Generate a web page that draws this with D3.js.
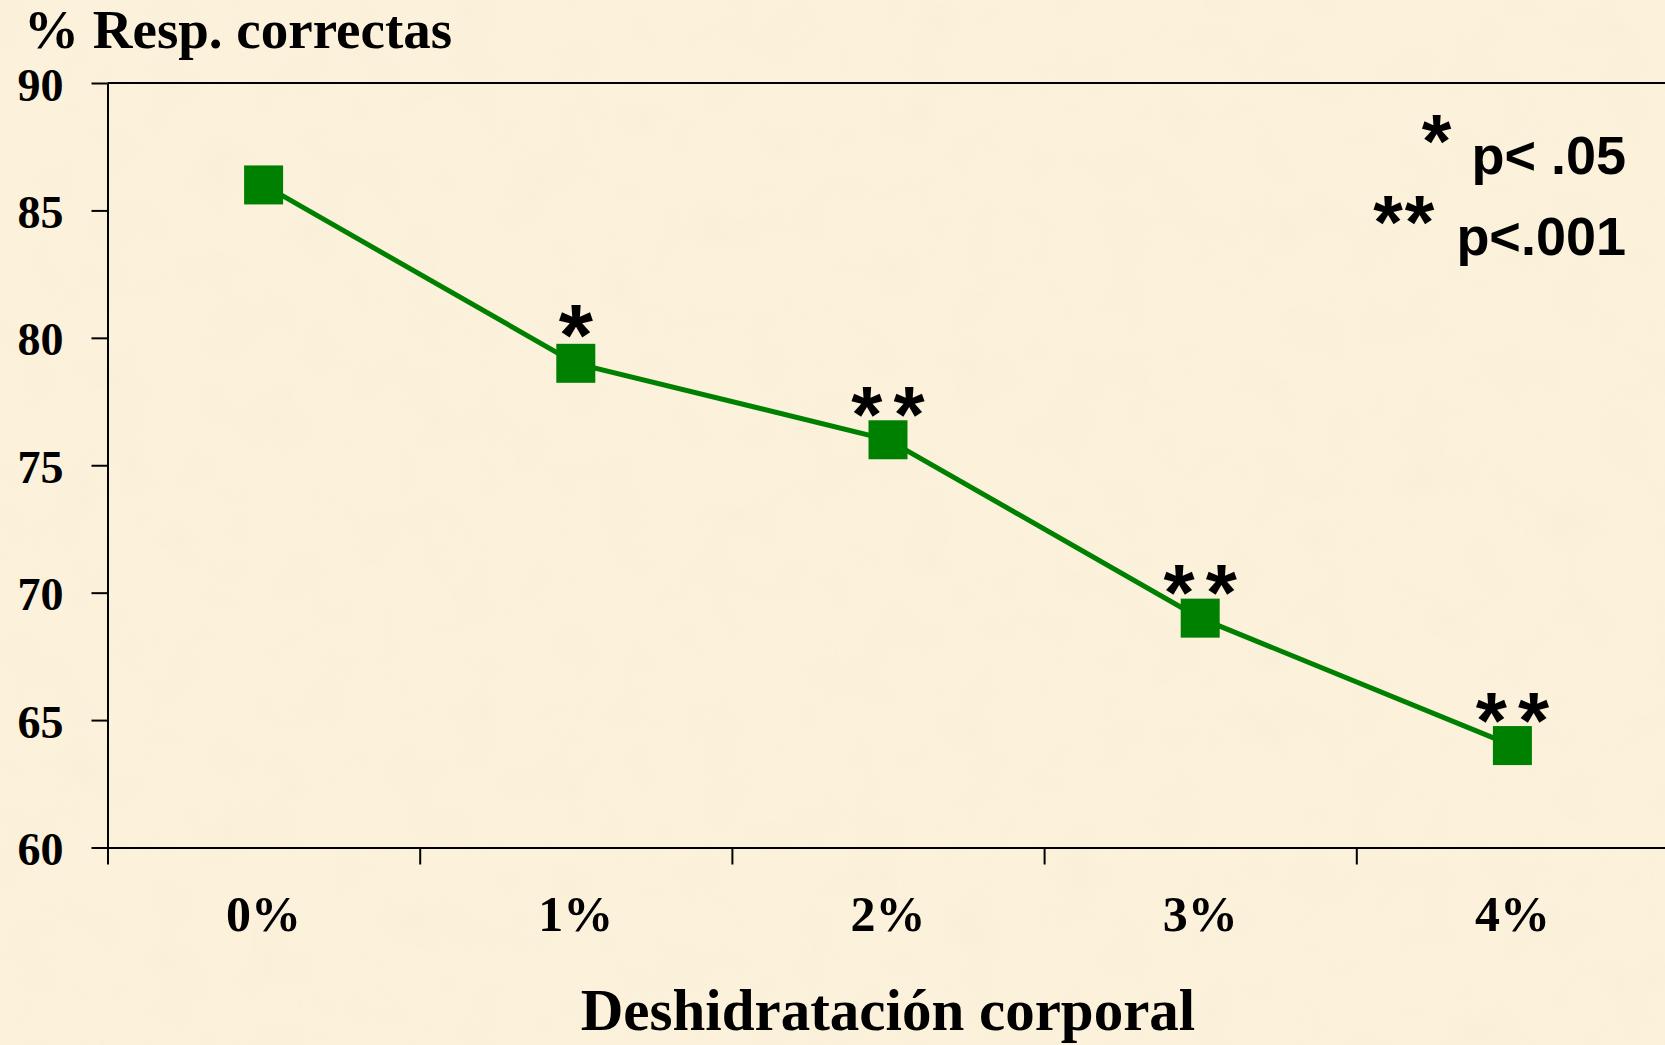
<!DOCTYPE html>
<html>
<head>
<meta charset="utf-8">
<script src="https://cdn.jsdelivr.net/npm/d3@7/dist/d3.min.js"></script>
<style>
  body { margin: 0; background: #fbf0d8; }
  svg { display: block; }
</style>
</head>
<body>
<div class="chart"></div>
<script>
const categories = ['0%', '1%', '2%', '3%', '4%'];
const values = [86, 79, 76, 69, 64];
const significance = ['', '*', '**', '**', '**'];
const yTicks = [60, 65, 70, 75, 80, 85, 90];
const legendStars = ['*', '**'];
const legendLabels = ['p< .05', 'p<.001'];

const width = 1665, height = 1045;
// plot box, right edge runs slightly off the picture like the original
const box = { l: 107.5, r: 1668.5, t: 83, b: 847.5 };
const serif = "'Liberation Serif', 'Times New Roman', serif";
const sans = "'Liberation Sans', Arial, sans-serif";

const svg = d3.select('.chart')
  .append('svg')
    .attr('width', width)
    .attr('height', height);

// parchment background
const defs = svg.append('defs');
const tex = defs.append('filter').attr('id', 'paper')
  .attr('x', 0).attr('y', 0).attr('width', '100%').attr('height', '100%');
tex.append('feTurbulence')
  .attr('type', 'fractalNoise')
  .attr('baseFrequency', 0.02)
  .attr('numOctaves', 3)
  .attr('seed', 4);
tex.append('feColorMatrix')
  .attr('type', 'matrix')
  .attr('values', '0 0 0 0 0.93  0 0 0 0 0.85  0 0 0 0 0.68  1.8 0 0 0 -0.75');

svg.append('rect')
  .attr('width', width).attr('height', height)
  .attr('fill', '#fcf2db');
svg.append('rect')
  .attr('width', width).attr('height', height)
  .attr('filter', 'url(#paper)')
  .attr('opacity', 0.5);

const x = d3.scaleBand()
  .domain(categories)
  .range([box.l, box.r])
  .padding(0);

const y = d3.scaleLinear()
  .domain([60, 90])
  .range([box.b, box.t]);

// top border of the plot area
svg.append('line')
  .attr('x1', box.l).attr('x2', box.r)
  .attr('y1', y(90)).attr('y2', y(90))
  .attr('stroke', '#000').attr('stroke-width', 2);

// y axis
const yAxis = svg.append('g')
  .attr('transform', 'translate(' + box.l + ',0)')
  .call(d3.axisLeft(y).tickValues(yTicks).tickSize(16).tickSizeOuter(0).tickPadding(28));
yAxis.selectAll('path, line').attr('stroke', '#000').attr('stroke-width', 2);
yAxis.selectAll('text')
  .attr('dy', '0.37em')
  .attr('fill', '#000')
  .style('font-family', serif)
  .style('font-weight', 'bold')
  .style('font-size', '46px');

// x axis: ticks sit on the category boundaries
const xEdge = d3.scaleLinear().domain([0, categories.length]).range([box.l, box.r]);
const xTicks = svg.append('g')
  .attr('transform', 'translate(0,' + box.b + ')')
  .call(d3.axisBottom(xEdge).tickValues(d3.range(categories.length + 1)).tickSize(17).tickSizeOuter(0).tickFormat(''));
xTicks.selectAll('path, line').attr('stroke', '#000').attr('stroke-width', 2);

const xLabels = svg.append('g')
  .attr('transform', 'translate(0,' + box.b + ')')
  .call(d3.axisBottom(x).tickSize(0));
xLabels.select('.domain').remove();
xLabels.selectAll('text')
  .attr('y', 83.5)
  .attr('dy', 0)
  .attr('fill', '#000')
  .style('font-family', serif)
  .style('font-weight', 'bold')
  .style('font-size', '50px');

const cx = (d, i) => x(categories[i]) + x.bandwidth() / 2;

svg.append('path')
  .datum(values)
  .attr('fill', 'none')
  .attr('stroke', '#008000')
  .attr('stroke-width', 5)
  .attr('d', d3.line().x(cx).y(d => y(d)));

const size = 39;
svg.selectAll('.marker')
  .data(values)
  .join('rect')
    .attr('class', 'marker')
    .attr('x', (d, i) => cx(d, i) - size / 2)
    .attr('y', d => y(d) - size / 2)
    .attr('width', size)
    .attr('height', size)
    .attr('fill', '#008000');

// significance stars above the markers
svg.selectAll('.sig')
  .data(values)
  .join('text')
    .attr('class', 'sig')
    .attr('x', (d, i) => cx(d, i))
    .attr('y', d => y(d) + 2)
    .attr('dx', (d, i) => significance[i].length > 1 ? 5.5 : 0)
    .attr('text-anchor', 'middle')
    .style('font-family', sans)
    .style('font-weight', 'bold')
    .style('font-size', (d, i) => significance[i].length > 1 ? '80px' : '88px')
    .style('letter-spacing', (d, i) => significance[i].length > 1 ? '11px' : '0px')
    .text((d, i) => significance[i]);

// legend in the top right corner
const legendY = [174, 255];
const legend = svg.selectAll('.legend')
  .data(legendLabels)
  .join('g')
    .attr('class', 'legend');
legend.append('text')
  .attr('x', 1626)
  .attr('y', (d, i) => legendY[i])
  .attr('text-anchor', 'end')
  .style('font-family', sans)
  .style('font-weight', 'bold')
  .style('font-size', '54px')
  .text(d => d);
legend.each(function(d, i) {
  const g = d3.select(this);
  const w = g.select('text').node().getComputedTextLength();
  g.append('text')
    .attr('x', 1626 - w - 20)
    .attr('y', legendY[i] - 7)
    .attr('text-anchor', 'end')
    .style('font-family', sans)
    .style('font-weight', 'bold')
    .style('font-size', '76px')
    .style('letter-spacing', legendStars[i].length > 1 ? '2px' : '0px')
    .text(legendStars[i]);
});

// titles
svg.append('text')
  .attr('x', 24)
  .attr('y', 48)
  .style('font-family', serif)
  .style('font-weight', 'bold')
  .style('font-size', '55px')
  .text('% Resp. correctas');

svg.append('text')
  .attr('x', (box.l + box.r) / 2)
  .attr('y', 1030)
  .attr('text-anchor', 'middle')
  .style('font-family', serif)
  .style('font-weight', 'bold')
  .style('font-size', '59px')
  .text('Deshidratación corporal');
</script>
</body>
</html>
